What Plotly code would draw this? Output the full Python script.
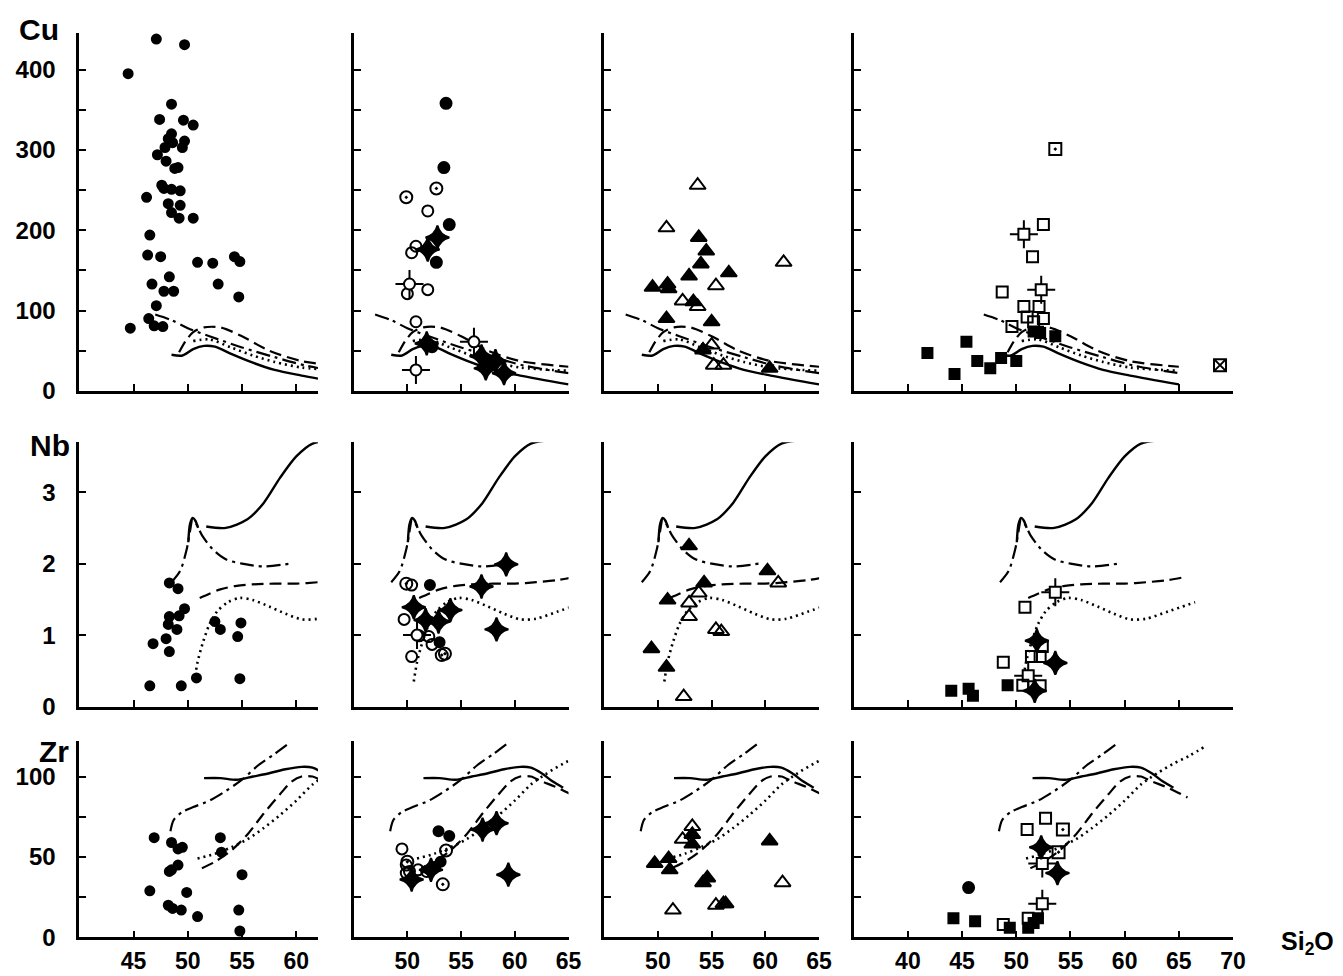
import plotly.graph_objects as go

# ---------------- DATA (SiO2 wt%, element ppm / ratio) ----------------
# Reference curves (same in every column)
CU_DASHDOT = [(47, 95), (48.5, 88), (50, 78), (52, 68), (55, 54), (58, 42), (61, 31), (65, 22)]
CU_DASH = [(49.2, 48), (49.8, 62), (50.5, 73), (51.5, 79), (53, 79), (55, 68), (57.5, 50), (60.5, 37), (65, 30)]
CU_SOLID = [(48.5, 45), (49.5, 44), (50.5, 52), (51.5, 56), (52.5, 55), (54, 46), (56, 35), (58, 26), (60.5, 19), (65, 8)]
CU_DOT = [(50.5, 62), (52, 64), (54, 54), (56, 44), (58, 36), (60.5, 29), (65, 25)]

NB_DASHDOT = [(48.5, 1.74), (49.3, 1.9), (49.9, 2.2), (50.2, 2.45), (50.45, 2.62), (50.8, 2.55), (51.3, 2.4),
              (52.3, 2.2), (53.5, 2.06), (55, 2.0), (57, 1.96), (59.4, 2.0)]
NB_SOLID = [(50.05, 2.3), (50.2, 2.55), (50.45, 2.64), (50.7, 2.6), (50.95, 2.5), (None, None),
            (51.7, 2.52), (53.5, 2.5), (55.5, 2.62), (57, 2.85), (58.5, 3.2), (60, 3.5), (61.5, 3.68),
            (63.5, 3.73), (64.5, 3.73)]
NB_DASH = [(51.1, 1.52), (52, 1.58), (53, 1.64), (54.5, 1.69), (56, 1.71), (58, 1.72), (60, 1.72),
           (62, 1.74), (64, 1.77), (65.5, 1.81)]
NB_DOT = [(50.6, 0.35), (50.9, 0.62), (51.4, 0.9), (52, 1.15), (52.7, 1.33), (53.7, 1.46), (54.8, 1.52),
          (56, 1.49), (57.5, 1.4), (59, 1.3), (60.5, 1.22), (62, 1.23), (64, 1.33), (66.5, 1.46)]

ZR_DASHDOT = [(48.4, 66), (48.7, 73), (49.5, 78), (50.5, 81), (52, 85), (53.5, 91), (55, 98), (56.5, 107),
              (58, 114), (59.4, 121)]
ZR_SOLID = [(51.5, 99), (53, 99), (54.5, 98), (56, 100), (57.5, 102), (59, 104.5), (60.5, 106),
            (61.5, 105.5), (62.5, 102), (63.5, 97), (64.5, 93)]
ZR_DASH = [(51.3, 43), (52.5, 47), (54, 54), (55.5, 64), (57, 77), (58.5, 89), (59.6, 97), (60.5, 100),
           (61.5, 100), (62.5, 97), (64, 93), (65.8, 87)]
ZR_DOT = [(50.9, 49), (52.5, 52), (54, 56), (55.5, 61), (57, 68), (58.5, 76), (60, 85), (61.5, 95),
          (63, 102), (64.5, 108), (66, 113), (67.5, 119)]

# Column 1 samples (filled circles)
CU1_DOT = [(47.1, 447), (47.1, 438), (49.7, 431), (44.5, 395), (48.5, 357), (47.4, 338), (49.6, 337),
           (50.5, 331), (48.5, 320), (48.2, 314), (48.6, 309), (47.9, 303), (49.7, 311), (49.5, 303),
           (47.2, 294), (48.0, 286), (48.8, 277), (49.1, 278), (46.2, 241), (47.6, 256), (47.8, 252),
           (48.5, 251), (49.3, 249), (48.2, 233), (49.3, 231), (48.5, 222), (49.2, 215), (50.5, 215),
           (46.5, 194), (46.3, 169), (47.5, 167), (50.9, 160), (52.3, 159), (54.3, 167), (54.8, 161),
           (46.7, 133), (48.3, 142), (47.8, 124), (48.7, 124), (52.8, 133), (54.7, 117), (47.1, 106),
           (44.7, 78), (46.4, 90), (46.9, 81), (47.7, 80)]
NB1_DOT = [(48.3, 1.73), (49.1, 1.65), (48.3, 1.26), (48.2, 1.15), (49.2, 1.27), (49.7, 1.37), (49.0, 1.08),
           (52.5, 1.19), (53.0, 1.08), (54.9, 1.17), (46.8, 0.88), (48.0, 0.95), (48.3, 0.77), (54.6, 0.98),
           (46.5, 0.29), (49.4, 0.29), (50.8, 0.40), (54.8, 0.39)]
ZR1_DOT = [(46.9, 62), (48.5, 59), (53.0, 62), (49.1, 55), (49.5, 56), (53.1, 53), (48.5, 42), (49.1, 45),
           (48.3, 41), (55.0, 39), (46.5, 29), (49.9, 28), (48.2, 20), (48.6, 18), (49.4, 17), (50.9, 13),
           (54.7, 17), (54.8, 4)]

# Column 2 samples
CU2_FILLED = [(53.6, 358), (53.4, 278), (53.9, 207), (52.7, 160), (52.3, 55)]
CU2_DOTC = [(49.9, 241), (52.7, 252)]
CU2_OPEN = [(51.9, 224), (50.8, 180), (50.4, 172), (50.0, 121), (51.9, 126), (50.8, 86)]
CU2_STAR = [(52.8, 191), (51.9, 176), (51.8, 59), (56.9, 43), (58.2, 37), (57.3, 28), (59.0, 22)]
CU2_SPIKE = [(50.2, 133), (50.8, 26), (56.2, 61)]
NB2_DOTC = [(49.9, 1.72), (53.2, 0.72), (53.5, 0.74)]
NB2_OPEN = [(50.4, 1.70), (49.7, 1.22), (51.1, 0.99), (52.0, 0.98), (52.3, 0.87), (50.4, 0.70)]
NB2_FILLED = [(52.1, 1.70), (53.0, 0.90)]
NB2_STAR = [(59.2, 1.99), (56.9, 1.68), (58.3, 1.08), (50.6, 1.39), (51.7, 1.21), (52.9, 1.19), (54.0, 1.35)]
NB2_SPIKE = [(50.9, 1.0)]
ZR2_OPEN = [(49.5, 55), (49.9, 45), (50.2, 41), (51.0, 42), (51.8, 41), (49.9, 40)]
ZR2_DOTC = [(53.6, 54), (53.3, 33), (50.0, 47)]
ZR2_STAR = [(57.0, 67), (58.3, 71), (59.4, 39), (50.4, 36), (52.2, 42)]
ZR2_FILLED = [(52.9, 66), (53.9, 63), (53.1, 47), (52.6, 44)]

# Column 3 samples
CU3_OPEN = [(53.7, 256), (50.8, 203), (61.7, 160), (55.4, 131), (52.3, 112), (53.7, 105), (55.0, 57),
            (55.2, 32), (56.1, 32)]
CU3_FILLED = [(53.8, 191), (54.5, 174), (54.0, 158), (56.6, 147), (52.9, 143), (50.9, 133), (49.5, 129),
              (53.3, 111), (50.8, 90), (55.0, 86), (54.2, 51), (60.4, 28), (51.0, 127)]
NB3_FILLED = [(52.9, 2.25), (60.2, 1.90), (54.3, 1.73), (50.9, 1.49), (49.4, 0.81), (50.8, 0.55)]
NB3_OPEN = [(61.2, 1.73), (53.8, 1.59), (52.9, 1.45), (52.9, 1.26), (55.4, 1.08), (55.9, 1.05), (52.4, 0.14)]
ZR3_OPEN = [(53.2, 69), (52.3, 61), (61.6, 34), (55.4, 20), (56.1, 21), (51.4, 17)]
ZR3_FILLED = [(53.2, 64), (53.2, 58), (60.4, 60), (49.7, 46), (51.0, 49), (51.1, 42), (54.6, 37),
              (54.2, 34), (56.3, 21)]

# Column 4 samples
CU4_SQDOT = [(53.6, 301)]
CU4_OPEN = [(52.5, 207), (51.5, 167), (48.7, 123), (50.7, 105), (52.1, 105), (51.0, 92), (52.5, 90),
            (49.6, 80), (51.6, 86)]
CU4_SPIKE = [(50.7, 195), (52.3, 126)]
CU4_FILLED = [(51.6, 74), (53.6, 68), (52.2, 72), (45.4, 61), (41.8, 47), (46.4, 37), (44.3, 21),
              (47.6, 28), (48.6, 41), (50.0, 37)]
CU4_SQX = [(68.8, 32)]
NB4_SPIKE = [(53.6, 1.60), (51.1, 0.43)]
NB4_OPEN = [(50.8, 1.39), (52.4, 0.84), (51.4, 0.70), (52.2, 0.70), (48.8, 0.62), (50.6, 0.30), (52.2, 0.29)]
NB4_STAR = [(51.9, 0.92), (53.6, 0.61), (51.7, 0.22)]
NB4_FILLED = [(44.0, 0.22), (45.6, 0.25), (46.0, 0.15), (49.2, 0.30)]
ZR4_SQX = [(66.5, 126)]
ZR4_OPEN = [(52.7, 74), (51.0, 67), (51.1, 12), (48.8, 8)]
ZR4_SQDOT = [(54.3, 67), (53.9, 53)]
ZR4_SPIKE = [(52.4, 46), (52.4, 21)]
ZR4_STAR = [(52.3, 56), (53.8, 40)]
ZR4_CIRCLE = [(45.6, 31)]
ZR4_FILLED = [(52.0, 12), (51.6, 9), (51.1, 6), (49.4, 6), (44.2, 12), (46.2, 10)]

X_TICKS = [[45, 50, 55, 60], [50, 55, 60, 65], [50, 55, 60, 65], [40, 45, 50, 55, 60, 65, 70]]
CU_TICKS = [0, 100, 200, 300, 400]
CU_MINOR = [50, 150, 250, 350]
NB_TICKS = [0, 1, 2, 3]
ZR_TICKS = [0, 50, 100]
ZR_MINOR = [25, 75]

# ---------------- LAYOUT ----------------
W, H = 1343, 976
COL_PX = [(72, 313), (349, 566), (602, 819), (854, 1237)]
ROW_PX = [(25, 388), (440, 708), (743, 942)]
X_RANGES = [(40, 62), (45, 65), (45, 65), (35, 70)]
Y_RANGES = [(0, 446), (0, 3.7), (0, 122)]
Y_TICKS = [(CU_TICKS, CU_MINOR), (NB_TICKS, None), (ZR_TICKS, ZR_MINOR)]

CURVES = [
    [(CU_SOLID, "solid", 2.4), (CU_DASH, "12px,6px", 2.2), (CU_DOT, "2px,4px", 2.6), (CU_DASHDOT, "14px,5px,3px,5px", 2.2)],
    [(NB_SOLID, "solid", 2.4), (NB_DASH, "12px,6px", 2.2), (NB_DOT, "2px,4px", 2.6), (NB_DASHDOT, "14px,5px,3px,5px", 2.2)],
    [(ZR_SOLID, "solid", 2.4), (ZR_DASH, "12px,6px", 2.2), (ZR_DOT, "2px,4px", 2.6), (ZR_DASHDOT, "14px,5px,3px,5px", 2.2)],
]

SAMPLES = {
    (0, 0): [(CU1_DOT, "circle", 9)],
    (1, 0): [(NB1_DOT, "circle", 9)],
    (2, 0): [(ZR1_DOT, "circle", 9)],
    (0, 1): [(CU2_FILLED, "circle", 11), (CU2_DOTC, "circle-open-dot", 12), (CU2_OPEN, "circle-open", 11),
             (CU2_STAR, "star-diamond", 17), (CU2_SPIKE, "spike-circle", 11)],
    (1, 1): [(NB2_DOTC, "circle-open-dot", 12), (NB2_OPEN, "circle-open", 11), (NB2_FILLED, "circle", 10),
             (NB2_STAR, "star-diamond", 17), (NB2_SPIKE, "spike-circle", 11)],
    (2, 1): [(ZR2_OPEN, "circle-open", 11), (ZR2_DOTC, "circle-open-dot", 12), (ZR2_STAR, "star-diamond", 17),
             (ZR2_FILLED, "circle", 10)],
    (0, 2): [(CU3_OPEN, "triangle-up-open", 14), (CU3_FILLED, "triangle-up", 14)],
    (1, 2): [(NB3_FILLED, "triangle-up", 14), (NB3_OPEN, "triangle-up-open", 14)],
    (2, 2): [(ZR3_OPEN, "triangle-up-open", 14), (ZR3_FILLED, "triangle-up", 14)],
    (0, 3): [(CU4_SQDOT, "square-open-dot", 12), (CU4_OPEN, "square-open", 11), (CU4_SPIKE, "spike-square", 11),
             (CU4_FILLED, "square", 10), (CU4_SQX, "square-x-open", 12)],
    (1, 3): [(NB4_SPIKE, "spike-square", 11), (NB4_OPEN, "square-open", 11), (NB4_STAR, "star-diamond", 17),
             (NB4_FILLED, "square", 10)],
    (2, 3): [(ZR4_SQX, "square-x-open", 12), (ZR4_OPEN, "square-open", 11), (ZR4_SQDOT, "square-open-dot", 12),
             (ZR4_SPIKE, "spike-square", 11), (ZR4_STAR, "star-diamond", 17), (ZR4_CIRCLE, "circle", 11),
             (ZR4_FILLED, "square", 10)],
}

fig = go.Figure()
FONT = "Liberation Sans, Arial, sans-serif"


def unzip(pts):
    return [p[0] for p in pts], [p[1] for p in pts]


layout = {}
for r in range(3):
    for c in range(4):
        i = r * 4 + c + 1
        xa = "x" if i == 1 else f"x{i}"
        ya = "y" if i == 1 else f"y{i}"
        for pts, dash, w in CURVES[r]:
            xs, ys = unzip(pts)
            fig.add_trace(go.Scatter(x=xs, y=ys, mode="lines", xaxis=xa, yaxis=ya,
                                     line=dict(color="black", width=w, dash=dash, shape="spline", smoothing=0.8),
                                     connectgaps=False, showlegend=False, hoverinfo="skip"))
        for pts, sym, size in SAMPLES[(r, c)]:
            xs, ys = unzip(pts)
            if sym.startswith("spike"):
                fig.add_trace(go.Scatter(x=xs, y=ys, mode="markers", xaxis=xa, yaxis=ya, cliponaxis=False,
                                         marker=dict(symbol="cross-thin-open", size=size + 9, color="black",
                                                     line=dict(width=2, color="black")),
                                         showlegend=False))
                base = "circle" if sym.endswith("circle") else "square"
                fig.add_trace(go.Scatter(x=xs, y=ys, mode="markers", xaxis=xa, yaxis=ya, cliponaxis=False,
                                         marker=dict(symbol=base, size=size, color="white",
                                                     line=dict(width=2, color="black")),
                                         showlegend=False))
            else:
                fig.add_trace(go.Scatter(x=xs, y=ys, mode="markers", xaxis=xa, yaxis=ya, cliponaxis=False,
                                         marker=dict(symbol=sym, size=size, color="black",
                                                     line=dict(width=2, color="black")),
                                         showlegend=False))
        x0, x1 = COL_PX[c]
        yt, yb = ROW_PX[r]
        layout["xaxis" if i == 1 else f"xaxis{i}"] = dict(
            domain=[x0 / W, x1 / W], range=list(X_RANGES[c]), anchor=ya,
            showline=True, linecolor="black", linewidth=2.8, showgrid=False, zeroline=False,
            ticks="inside", ticklen=7, tickwidth=2, tickcolor="black",
            tickvals=X_TICKS[c], showticklabels=(r == 2), ticklabelstandoff=1,
            tickfont=dict(family=FONT, size=23, color="black", weight="bold"))
        tv, mv = Y_TICKS[r]
        ydict = dict(
            domain=[1 - yb / H, 1 - yt / H], range=list(Y_RANGES[r]), anchor=xa,
            showline=True, linecolor="black", linewidth=2.8, showgrid=False, zeroline=False,
            ticks="inside", ticklen=7, tickwidth=2, tickcolor="black",
            tickvals=tv, showticklabels=(c == 0), ticklabelstandoff=16,
            tickfont=dict(family=FONT, size=24, color="black", weight="bold"))
        if mv:
            ydict["minor"] = dict(tickvals=mv, ticks="inside", ticklen=7, tickwidth=2,
                                  tickcolor="black", showgrid=False)
        layout["yaxis" if i == 1 else f"yaxis{i}"] = ydict

annotations = [
    dict(text="<b>Cu</b>", x=31 / W, y=1 - 22 / H, xanchor="center"),
    dict(text="<b>Nb</b>", x=42 / W, y=1 - 443 / H, xanchor="center"),
    dict(text="<b>Zr</b>", x=46 / W, y=1 - 754 / H, xanchor="center"),
    dict(text="<b>Si<sub>2</sub>O</b>", x=1341 / W, y=1 - 948 / H, xanchor="right"),
]
for k, a in enumerate(annotations):
    a.update(xref="paper", yref="paper", showarrow=False, yanchor="middle",
             font=dict(family=FONT, size=25 if k == 3 else 30, color="black"))

fig.update_layout(width=W, height=H, margin=dict(l=0, r=0, t=0, b=0),
                  paper_bgcolor="white", plot_bgcolor="white", annotations=annotations, **layout)
fig.write_html("out.html")
